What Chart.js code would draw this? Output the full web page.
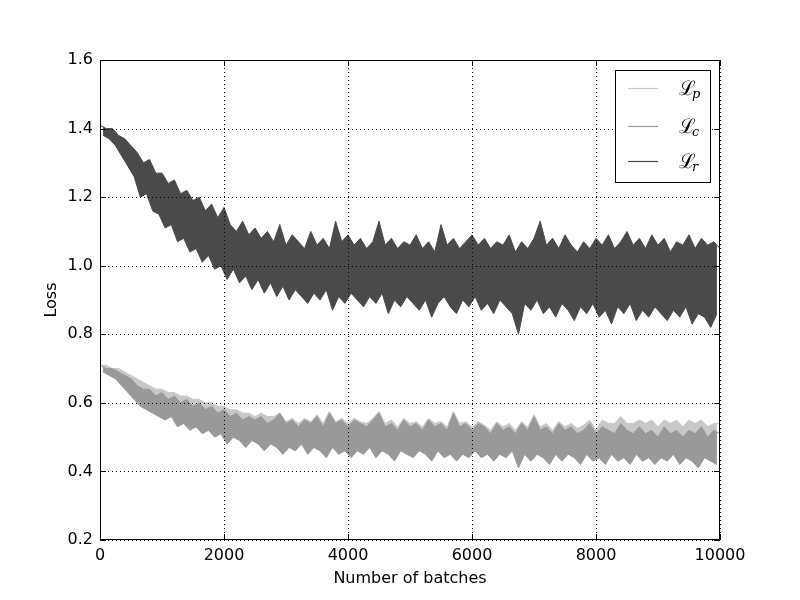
<!DOCTYPE html>
<html>
<head>
<meta charset="utf-8">
<script src="https://cdn.jsdelivr.net/npm/chart.js@4/dist/chart.umd.min.js"></script>
<style>
  html, body { margin: 0; padding: 0; background: #fff; }
  #wrap { width: 800px; height: 600px; }
</style>
</head>
<body>
<div id="wrap"><canvas id="myChart" width="800" height="600"></canvas></div>
<script>
//data: each series is read as a noisy band, one upper value every 100 batches
//(at 0, 100, ...) and one lower value in between (at 50, 150, ...)
const stepBatches = 100;
const seriesNames = ["p", "c", "r"];
const xTicks = [0, 2000, 4000, 6000, 8000, 10000];
const yTicks = [0.2, 0.4, 0.6, 0.8, 1.0, 1.2, 1.4, 1.6];

const lossPHigh = [0.71,0.71,0.70,0.70,0.69,0.68,0.67,0.66,0.65,0.64,0.64,
  0.63,0.63,0.62,0.62,0.61,0.61,0.60,0.60,0.59,0.59,
  0.58,0.58,0.57,0.57,0.56,0.57,0.56,0.56,0.57,0.545,
  0.555,0.54,0.555,0.545,0.565,0.54,0.575,0.545,0.555,0.54,
  0.555,0.545,0.54,0.555,0.575,0.54,0.55,0.53,0.555,0.54,
  0.545,0.53,0.555,0.54,0.545,0.53,0.575,0.54,0.545,0.53,
  0.545,0.535,0.52,0.545,0.53,0.54,0.52,0.545,0.53,0.565,
  0.53,0.54,0.52,0.545,0.53,0.54,0.525,0.535,0.55,0.52,
  0.55,0.54,0.54,0.56,0.54,0.54,0.55,0.54,0.55,0.53,
  0.55,0.54,0.55,0.53,0.55,0.54,0.55,0.53,0.54,0.54];
const lossPLow = [0.70,0.69,0.68,0.66,0.65,0.63,0.61,0.60,0.59,0.58,
  0.57,0.57,0.55,0.56,0.54,0.55,0.53,0.54,0.52,0.53,
  0.50,0.52,0.51,0.49,0.51,0.50,0.48,0.50,0.49,0.47,
  0.49,0.48,0.50,0.47,0.49,0.48,0.46,0.49,0.47,0.48,
  0.46,0.48,0.47,0.49,0.46,0.48,0.47,0.45,0.48,0.47,
  0.46,0.48,0.47,0.45,0.48,0.46,0.47,0.45,0.47,0.46,
  0.48,0.46,0.47,0.45,0.47,0.46,0.48,0.44,0.47,0.45,
  0.47,0.46,0.45,0.47,0.45,0.47,0.46,0.45,0.47,0.45,
  0.47,0.45,0.47,0.46,0.47,0.45,0.47,0.46,0.47,0.45,
  0.47,0.46,0.47,0.45,0.47,0.46,0.44,0.47,0.46,0.45];

const lossCHigh = [0.71,0.70,0.70,0.69,0.68,0.67,0.65,0.64,0.64,0.62,0.63,
  0.61,0.62,0.60,0.61,0.59,0.60,0.58,0.59,0.57,0.58,
  0.56,0.57,0.55,0.56,0.55,0.56,0.54,0.55,0.57,0.54,
  0.55,0.53,0.55,0.54,0.56,0.53,0.57,0.54,0.55,0.53,
  0.55,0.54,0.53,0.55,0.57,0.53,0.54,0.52,0.55,0.53,
  0.54,0.52,0.55,0.53,0.54,0.52,0.57,0.53,0.54,0.52,
  0.54,0.53,0.51,0.54,0.52,0.53,0.51,0.54,0.52,0.56,
  0.52,0.53,0.51,0.54,0.52,0.53,0.51,0.52,0.54,0.51,
  0.53,0.52,0.51,0.54,0.52,0.51,0.53,0.51,0.52,0.50,
  0.53,0.51,0.52,0.50,0.52,0.51,0.53,0.50,0.52,0.51];
const lossCLow = [0.69,0.68,0.67,0.65,0.63,0.61,0.59,0.58,0.57,0.56,
  0.55,0.56,0.53,0.54,0.52,0.53,0.51,0.52,0.50,0.51,
  0.48,0.50,0.49,0.47,0.49,0.48,0.46,0.48,0.47,0.45,
  0.47,0.46,0.48,0.45,0.47,0.46,0.44,0.47,0.45,0.46,
  0.44,0.46,0.45,0.47,0.44,0.46,0.45,0.43,0.46,0.45,
  0.44,0.46,0.45,0.43,0.46,0.44,0.45,0.43,0.45,0.44,
  0.46,0.44,0.45,0.43,0.45,0.44,0.46,0.41,0.45,0.43,
  0.45,0.44,0.42,0.45,0.43,0.45,0.44,0.42,0.45,0.43,
  0.44,0.42,0.45,0.43,0.44,0.42,0.45,0.43,0.44,0.42,
  0.44,0.43,0.45,0.42,0.44,0.43,0.41,0.44,0.43,0.42];

const lossRHigh = [1.41,1.40,1.40,1.38,1.37,1.35,1.33,1.30,1.31,1.27,1.27,
  1.24,1.25,1.21,1.22,1.19,1.20,1.16,1.18,1.14,1.17,
  1.12,1.10,1.13,1.09,1.11,1.08,1.10,1.07,1.12,1.06,
  1.09,1.07,1.05,1.10,1.06,1.08,1.05,1.13,1.07,1.09,
  1.06,1.08,1.05,1.07,1.13,1.06,1.08,1.05,1.07,1.06,
  1.09,1.05,1.07,1.04,1.12,1.06,1.08,1.05,1.07,1.09,
  1.06,1.08,1.05,1.07,1.06,1.09,1.04,1.07,1.05,1.08,
  1.13,1.06,1.08,1.05,1.09,1.06,1.04,1.07,1.05,1.08,
  1.06,1.09,1.05,1.07,1.10,1.06,1.08,1.05,1.09,1.06,
  1.08,1.04,1.07,1.06,1.09,1.05,1.08,1.06,1.07,1.05];
const lossRLow = [1.38,1.37,1.35,1.32,1.29,1.26,1.20,1.21,1.16,1.15,
  1.11,1.12,1.07,1.08,1.04,1.05,1.01,1.03,0.99,1.00,
  0.96,0.99,0.95,0.97,0.93,0.96,0.92,0.95,0.91,0.94,
  0.90,0.93,0.91,0.89,0.92,0.90,0.93,0.87,0.91,0.89,
  0.92,0.90,0.88,0.91,0.89,0.92,0.86,0.90,0.88,0.91,
  0.89,0.87,0.90,0.85,0.89,0.91,0.88,0.86,0.90,0.88,
  0.91,0.87,0.89,0.86,0.90,0.88,0.86,0.80,0.89,0.87,
  0.90,0.86,0.88,0.85,0.89,0.87,0.84,0.88,0.86,0.89,
  0.85,0.87,0.83,0.88,0.86,0.89,0.84,0.87,0.85,0.88,
  0.86,0.84,0.87,0.85,0.88,0.83,0.86,0.85,0.82,0.86];

const lineColors = ["#c8c8c8", "#999999", "#4a4a4a"];

//points of one edge of a band; the lower edge sits half a step later
function edge(values, offset) {
  return values.map((v, i) => ({ x: i * stepBatches + offset, y: v }));
}

const FONT = "'DejaVu Sans', sans-serif";

//dotted grid over the data, frame, inward ticks and the legend box
const framePlugin = {
  id: "frame",
  afterDatasetsDraw(chart) {
    const ctx = chart.ctx;
    const a = chart.chartArea;
    const xs = chart.scales.x, ys = chart.scales.y;
    ctx.save();
    ctx.strokeStyle = "#000";
    ctx.lineWidth = 1;
    ctx.setLineDash([1, 3]);
    ctx.beginPath();
    xTicks.forEach(v => {
      const px = Math.round(xs.getPixelForValue(v)) + 0.5;
      ctx.moveTo(px, a.top); ctx.lineTo(px, a.bottom);
    });
    yTicks.forEach(v => {
      const py = Math.round(ys.getPixelForValue(v)) + 0.5;
      ctx.moveTo(a.left, py); ctx.lineTo(a.right, py);
    });
    ctx.stroke();
    ctx.restore();
  },
  afterDraw(chart) {
    const ctx = chart.ctx;
    const a = chart.chartArea;
    const xs = chart.scales.x, ys = chart.scales.y;
    ctx.save();
    ctx.strokeStyle = "#000";
    ctx.lineWidth = 1;
    ctx.beginPath();
    xTicks.forEach(v => {
      const px = Math.round(xs.getPixelForValue(v)) + 0.5;
      ctx.moveTo(px, a.bottom); ctx.lineTo(px, a.bottom - 6);
      ctx.moveTo(px, a.top); ctx.lineTo(px, a.top + 6);
    });
    yTicks.forEach(v => {
      const py = Math.round(ys.getPixelForValue(v)) + 0.5;
      ctx.moveTo(a.left, py); ctx.lineTo(a.left + 6, py);
      ctx.moveTo(a.right, py); ctx.lineTo(a.right - 6, py);
    });
    ctx.stroke();
    ctx.strokeRect(Math.round(a.left) + 0.5, Math.round(a.top) + 0.5,
      Math.round(a.right - a.left) - 1, Math.round(a.bottom - a.top) - 1);

    //legend
    const lx = 615, ly = 70, lw = 95, lh = 112;
    ctx.fillStyle = "#fff";
    ctx.fillRect(lx, ly, lw, lh);
    ctx.strokeRect(lx + 0.5, ly + 0.5, lw, lh);
    const rowY = [88, 126, 161];
    seriesNames.forEach((name, i) => {
      ctx.strokeStyle = lineColors[i];
      ctx.lineWidth = 1.2;
      ctx.beginPath();
      ctx.moveTo(628, rowY[i] + 0.5);
      ctx.lineTo(658, rowY[i] + 0.5);
      ctx.stroke();
      ctx.fillStyle = "#000";
      ctx.textBaseline = "alphabetic";
      ctx.textAlign = "left";
      ctx.font = "20px 'DejaVu Serif', serif";
      ctx.fillText("\u2112", 679, rowY[i] + 7);
      ctx.font = "italic 13px 'DejaVu Serif', serif";
      ctx.fillText(name, 692, rowY[i] + 10);
    });
    ctx.restore();
  }
};

function bandSets(high, low, color, idx) {
  return [
    { label: "hi", data: edge(high, 0), borderColor: color, order: 10 - 2 * idx },
    { label: "lo", data: edge(low, stepBatches / 2), borderColor: color,
      backgroundColor: color, fill: 2 * idx, order: 9 - 2 * idx },
  ];
}

const data = {
  datasets: [
    ...bandSets(lossPHigh, lossPLow, lineColors[0], 0),
    ...bandSets(lossCHigh, lossCLow, lineColors[1], 1),
    ...bandSets(lossRHigh, lossRLow, lineColors[2], 2),
  ],
};

const config = {
  type: "line",
  data: data,
  options: {
    responsive: false,
    animation: false,
    layout: { padding: { left: 0, top: 60, right: 80, bottom: 0 } },
    elements: {
      point: { radius: 0 },
      line: { borderWidth: 1, tension: 0 },
    },
    scales: {
      x: {
        type: "linear",
        min: 0,
        max: 10000,
        afterFit: s => { s.height = 60; },
        afterBuildTicks: s => { s.ticks = xTicks.map(v => ({ value: v })); },
        ticks: { color: "#000", font: { family: FONT, size: 16 }, padding: 6, maxRotation: 0,
          callback: v => String(v) },
        grid: { display: false, drawTicks: false },
        border: { display: false },
        title: { display: true, text: "Number of batches", color: "#000",
          font: { family: FONT, size: 16 }, padding: { top: 0, bottom: 12 } },
      },
      y: {
        min: 0.2,
        max: 1.6,
        afterFit: s => { s.width = 100; },
        afterBuildTicks: s => { s.ticks = yTicks.map(v => ({ value: v })); },
        ticks: { color: "#000", font: { family: FONT, size: 16 }, padding: 7,
          callback: v => v.toFixed(1) },
        grid: { display: false, drawTicks: false },
        border: { display: false },
        title: { display: true, text: "Loss", color: "#000",
          font: { family: FONT, size: 16 }, padding: { top: 42, bottom: 0 } },
      },
    },
    plugins: {
      legend: { display: false },
      tooltip: { enabled: false },
    },
  },
  plugins: [framePlugin],
};

const myChart = new Chart(document.getElementById("myChart"), config);
</script>
</body>
</html>
